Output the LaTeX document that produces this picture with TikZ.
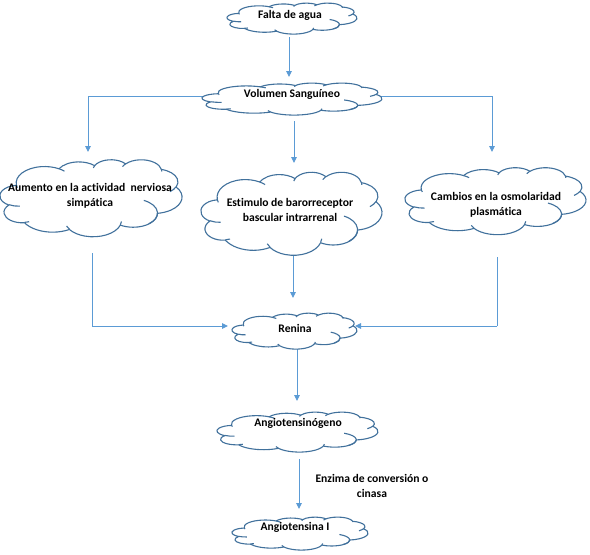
\documentclass[tikz,border=0pt]{standalone}
\usepackage{fontspec}
\setmainfont[Ligatures={NoCommon}]{Carlito}
\usetikzlibrary{arrows.meta}
\pgfdeclarelayer{background}
\pgfsetlayers{background,main}
\definecolor{cloudline}{HTML}{41719C}
\definecolor{arrowblue}{HTML}{5B9BD5}
% Word-style cloud, shape units divided by 10 (box 4320 x 4320), y downwards
\newcommand\nubept[2]{\pgfpoint{(\nbX+#1*\nbSX)*1pt}{-(\nbY+#2*\nbSY)*1pt}}
\newcommand\nubearc[4]{%
  \pgfmathsetmacro\nbRX{#1*\nbSX}\pgfmathsetmacro\nbRY{#2*\nbSY}%
  \pgfmathsetmacro\nbTA{atan2(#1*sin(#3),#2*cos(#3))}%
  \pgfmathsetmacro\nbTB{atan2(#1*sin(#3+#4),#2*cos(#3+#4))}%
  \pgfmathsetmacro\nbDT{(\nbTB)-(\nbTA)}%
  \pgfmathsetmacro\nbDT{(\nbDT)+((#4)>0)*((\nbDT)<0)*360-((#4)<0)*((\nbDT)>0)*360}%
  \pgfmathsetmacro\nbSA{-1*(\nbTA)}\pgfmathsetmacro\nbEA{-1*(\nbTA)-(\nbDT)}%
  \pgfpatharc{\nbSA}{\nbEA}{\nbRX pt and \nbRY pt}}
\newcommand\nubepath[4]{% cx cy w h
  \begin{pgfscope}
  \pgfmathsetmacro\nbX{#1-#3/2}\pgfmathsetmacro\nbY{#2-#4/2}%
  \pgfmathsetmacro\nbSX{#3/4320}\pgfmathsetmacro\nbSY{#4/4320}%
  \pgfsetlinewidth{1.1pt}\pgfsetstrokecolor{cloudline}\pgfsetfillcolor{white}%
  \pgfsetroundjoin
  \pgfpathmoveto{\nubept{390}{1437}}%
  \nubearc{675.3}{919.0}{-190.4875}{123.7805}%
  \nubearc{533.3}{726.7}{-144.1024}{89.9452}%
  \nubearc{436.5}{594.5}{-145.8079}{99.7230}%
  \nubearc{485.7}{659.5}{-130.9861}{117.2417}%
  \nubearc{533.3}{727.3}{-78.7089}{109.0269}%
  \nubearc{677.5}{922.0}{-46.2673}{130.2690}%
  \nubearc{578.5}{786.7}{0.6250}{114.0333}%
  \nubearc{675.2}{921.5}{22.4516}{115.1726}%
  \nubearc{772.0}{1054.3}{66.2426}{75.7110}%
  \nubearc{436.0}{591.8}{-274.9421}{146.7356}%
  \nubearc{434.5}{594.5}{-246.8285}{152.5189}%
  \pgfpathclose
  \pgfusepath{fill,stroke}%
  \pgfpathmoveto{\nubept{469.3}{2617.7}}\nubearc{434.5}{594.5}{86.7420}{26.4295}%
  \pgfpathmoveto{\nubept{692.8}{3489.9}}\nubearc{436.0}{591.8}{73.6105}{11.4475}%
  \pgfpathmoveto{\nubept{1647.8}{3909.0}}\nubearc{675.2}{921.5}{137.6242}{14.0811}%
  \pgfpathmoveto{\nubept{2882.7}{3475.1}}\nubearc{675.2}{921.5}{6.4533}{15.9984}%
  \pgfpathmoveto{\nubept{3412.9}{2295.4}}\nubearc{578.5}{786.7}{-70.2924}{128.6579}%
  \pgfpathmoveto{\nubept{4179.8}{1535.4}}\nubearc{533.3}{727.3}{30.3180}{27.7515}%
  \pgfpathmoveto{\nubept{3832.4}{542.6}}\nubearc{485.7}{659.5}{-13.7443}{14.8589}%
  \pgfpathmoveto{\nubept{2907.8}{395.2}}\nubearc{485.7}{659.5}{-149.1815}{18.1954}%
  \pgfpathmoveto{\nubept{2214.1}{472.0}}\nubearc{436.5}{594.5}{-163.4943}{17.6864}%
  \pgfpathmoveto{\nubept{1400.0}{519.2}}\nubearc{675.3}{919.0}{-66.7070}{12.3194}%
  \pgfpathmoveto{\nubept{412.7}{1578.9}}\nubearc{675.3}{919.0}{157.6544}{11.8582}%
  \pgfusepath{stroke}%
  \end{pgfscope}}
\tikzset{
  nubebox/.style={rectangle, inner sep=0pt, outer sep=0pt},
  texto/.style={font=\bfseries\fontsize{11.6}{15}\selectfont, align=center, inner sep=0pt},
  flecha/.style={draw=arrowblue, line width=0.9pt, -{Triangle[width=5.5pt,length=6pt]}},
  linea/.style={draw=arrowblue, line width=0.9pt}
}
\begin{document}
\begin{tikzpicture}[x=1pt,y=-1pt]
\useasboundingbox (0,0) rectangle (590,555);
% clouds
\nubepath{292}{18.5}{130}{31}
\node[nubebox, minimum width=130pt, minimum height=31pt] (falta) at (292,18.5) {};
\node[texto] (falta-t) at (290,15) {Falta de agua};
\nubepath{292}{99}{180}{32}
\node[nubebox, minimum width=180pt, minimum height=32pt] (vol) at (292,99) {};
\node[texto] (vol-t) at (292,94) {Volumen Sanguíneo};
\nubepath{91}{198}{182}{77}
\node[nubebox, minimum width=182pt, minimum height=77pt] (aum) at (91,198) {};
\node[texto] (aum-t) at (90,196) {Aumento en la actividad\ \ nerviosa\\simpática};
\nubepath{291.5}{213.5}{181}{83}
\node[nubebox, minimum width=181pt, minimum height=83pt] (est) at (291.5,213.5) {};
\node[texto] (est-t) at (290,210) {Estimulo de barorreceptor\\bascular intrarrenal};
\nubepath{495.5}{201}{181}{67}
\node[nubebox, minimum width=181pt, minimum height=67pt] (cam) at (495.5,201) {};
\node[texto] (cam-t) at (496,205) {Cambios en la osmolaridad\\plasmática};
\nubepath{294.5}{331}{125}{36}
\node[nubebox, minimum width=125pt, minimum height=36pt] (ren) at (294.5,331) {};
\node[texto] (ren-t) at (295,328) {Renina};
\nubepath{297.5}{432}{161}{40}
\node[nubebox, minimum width=161pt, minimum height=40pt] (ang) at (297.5,432) {};
\node[texto] (ang-t) at (298,423) {Angiotensinógeno};
\nubepath{300}{533.5}{136}{33}
\node[nubebox, minimum width=136pt, minimum height=33pt] (ang1) at (300,533.5) {};
\node[texto] (ang1-t) at (295,527) {Angiotensina I};
% label
\node[texto] (enz) at (372,486) {Enzima de conversión o\\cinasa};
% helper coordinates
\coordinate (vl) at (88,96);
\coordinate (vr) at (492,96);
\coordinate (al) at (92,326);
\coordinate (cr) at (497,326);
% connectors
\begin{pgfonlayer}{background}
\fill[white] (0,0) rectangle (590,555);
\draw[flecha] (289,37) -- (289,77);
\draw[linea] (vol.center |- vl) -- (vl);
\draw[flecha] (vl) -- (88,152);
\draw[linea] (vol.center |- vr) -- (vr);
\draw[flecha] (vr) -- (492,152);
\draw[flecha] (294,121) -- (294,163);
\draw[linea] (92,253) -- (al);
\draw[flecha] (al) -- (228,326);
\draw[flecha] (293,255) -- (293,298);
\draw[linea] (497,257) -- (cr);
\draw[flecha] (cr) -- (355,326);
\draw[flecha] (297,347) -- (297,401);
\draw[flecha] (299,459) -- (299,509);
\end{pgfonlayer}
\end{tikzpicture}
\end{document}
